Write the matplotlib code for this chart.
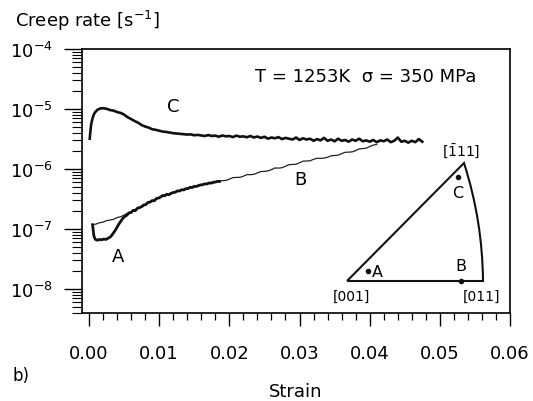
import numpy as np
import matplotlib
matplotlib.use('Agg')
import matplotlib.pyplot as plt
from matplotlib.ticker import LogLocator, MultipleLocator, NullFormatter, LogFormatterMathtext
from matplotlib.path import Path
from matplotlib.patches import PathPatch

plt.rcParams['font.family'] = ['DejaVu Sans']
plt.rcParams['mathtext.fontset'] = 'dejavusans'

# ---------------- data ----------------
strain_C = [0.0001, 0.0002, 0.0003, 0.0005, 0.0007, 0.0009, 0.0012, 0.0016, 0.0020, 0.0025,
            0.0030, 0.0035, 0.0040, 0.0045, 0.0049, 0.0055, 0.0060, 0.0065, 0.0070, 0.0075,
            0.0080, 0.0085, 0.0090, 0.0095,
            0.0100, 0.0105, 0.0110, 0.0115, 0.0120, 0.0125, 0.0130, 0.0135, 0.0140, 0.0145,
            0.0150, 0.0155, 0.0160, 0.0165, 0.0170, 0.0175, 0.0180, 0.0185, 0.0190, 0.0195,
            0.0200, 0.0205, 0.0210, 0.0215, 0.0220, 0.0225, 0.0230, 0.0235, 0.0240, 0.0245,
            0.0250, 0.0255, 0.0260, 0.0265, 0.0270, 0.0275, 0.0280, 0.0285, 0.0290, 0.0295,
            0.0300, 0.0305, 0.0310, 0.0315, 0.0320, 0.0325, 0.0330, 0.0335, 0.0340, 0.0345,
            0.0350, 0.0355, 0.0360, 0.0365, 0.0370, 0.0375, 0.0380, 0.0385, 0.0390, 0.0395,
            0.0400, 0.0405, 0.0410, 0.0415, 0.0420, 0.0425, 0.0430, 0.0435, 0.0440, 0.0445,
            0.0450, 0.0455, 0.0460, 0.0465, 0.0470, 0.0475]
rate_C = np.array([3.2, 4.3, 5.5, 7.0, 8.2, 8.9, 9.7, 10.2, 10.3, 10.1,
                   9.6, 9.4, 8.9, 8.6, 8.2, 7.3, 6.8, 6.3, 5.9, 5.4,
                   5.1, 4.9, 4.6, 4.5,
                   4.35, 4.2, 4.15, 4.05, 3.95, 3.9, 3.85, 3.8, 3.75, 3.78,
                   3.65, 3.7, 3.62, 3.55, 3.68, 3.55, 3.6, 3.45, 3.62, 3.5,
                   3.55, 3.4, 3.6, 3.45, 3.5, 3.38, 3.55, 3.35, 3.48, 3.3,
                   3.45, 3.2, 3.35, 3.25, 3.4, 3.15, 3.3, 3.2, 3.1, 3.35,
                   3.05, 3.25, 3.1, 3.2, 2.95, 3.15, 3.0, 3.3, 2.95, 3.1,
                   2.9, 3.2, 2.95, 3.05, 2.85, 3.1, 2.95, 3.2, 2.9, 3.0,
                   2.85, 3.05, 2.8, 3.0, 2.9, 3.1, 2.8, 2.95, 3.35, 2.85,
                   2.95, 2.75, 2.95, 2.8, 3.15, 2.85]) * 1e-6

strain_A = [0.0005, 0.0006, 0.0007, 0.0009, 0.0012, 0.0015, 0.0018, 0.0021, 0.0024, 0.0027,
            0.0030, 0.0033, 0.0036, 0.0039, 0.0042, 0.0045, 0.0048, 0.0051, 0.0054, 0.0057,
            0.0060, 0.0063, 0.0066, 0.0069, 0.0072, 0.0075, 0.0078, 0.0081, 0.0084, 0.0087,
            0.0090, 0.0093, 0.0096, 0.0099, 0.0102, 0.0105, 0.0108, 0.0111, 0.0114, 0.0117,
            0.0120, 0.0123, 0.0126, 0.0129, 0.0132, 0.0135, 0.0138, 0.0141, 0.0144, 0.0147,
            0.0150, 0.0153, 0.0156, 0.0159, 0.0162, 0.0165, 0.0168, 0.0171, 0.0174, 0.0177,
            0.0180, 0.0183, 0.0186]
rate_A = np.array([1.18, 0.95, 0.76, 0.67, 0.65, 0.67, 0.66, 0.68, 0.67, 0.70,
                   0.73, 0.80, 0.90, 1.02, 1.18, 1.33, 1.50, 1.62, 1.70, 1.86,
                   1.88, 2.05, 2.02, 2.22, 2.28, 2.35, 2.52, 2.55, 2.78, 2.80,
                   2.98, 2.95, 3.22, 3.28, 3.40, 3.62, 3.58, 3.80, 3.72, 3.95,
                   4.05, 4.10, 4.32, 4.30, 4.52, 4.48, 4.70, 4.72, 4.95, 4.90,
                   5.15, 5.12, 5.30, 5.42, 5.48, 5.65, 5.62, 5.85, 5.80, 6.02,
                   6.05, 6.22, 6.20]) * 1e-7

strain_B = [0.0006, 0.0010, 0.0015, 0.0020, 0.0025, 0.0030, 0.0035, 0.0040, 0.0045, 0.0050,
            0.0055, 0.0060, 0.0065, 0.0070, 0.0075, 0.0080, 0.0085, 0.0090, 0.0095, 0.0100,
            0.0105, 0.0110, 0.0115, 0.0120, 0.0125, 0.0130, 0.0135, 0.0140, 0.0145, 0.0150,
            0.0155, 0.0160, 0.0165, 0.0170, 0.0175, 0.0180, 0.0185, 0.0190, 0.0195, 0.0200,
            0.0205, 0.0210, 0.0215, 0.0220, 0.0225, 0.0230, 0.0235, 0.0240, 0.0245, 0.0250,
            0.0255, 0.0260, 0.0265, 0.0270, 0.0275, 0.0280, 0.0285, 0.0290, 0.0295, 0.0300,
            0.0305, 0.0310, 0.0315, 0.0320, 0.0325, 0.0330, 0.0335, 0.0340, 0.0345, 0.0350,
            0.0355, 0.0360, 0.0365, 0.0370, 0.0375, 0.0380, 0.0385, 0.0390, 0.0395, 0.0400,
            0.0405, 0.0410]
rate_B = np.array([1.18, 1.21, 1.27, 1.30, 1.38, 1.41, 1.45, 1.55, 1.60, 1.70,
                   1.84, 1.91, 2.10, 2.19, 2.33, 2.57, 2.80, 2.95, 3.10, 3.35,
                   3.62, 3.72, 3.78, 3.98, 4.30, 4.37, 4.45, 4.68, 5.02, 5.07,
                   5.14, 5.43, 5.70, 5.75, 5.78, 6.03, 6.35, 6.38, 6.45, 6.76,
                   7.18, 7.24, 7.25, 7.59, 8.05, 8.04, 8.15, 8.61, 9.05, 9.12,
                   9.28, 9.77, 10.4, 10.35, 10.5, 11.1, 11.8, 11.9, 12.0, 12.7,
                   13.5, 13.6, 13.7, 14.5, 15.1, 15.0, 15.2, 15.7, 16.6, 16.8,
                   17.0, 18.0, 19.0, 19.1, 19.3, 20.2, 21.6, 21.9, 22.2, 23.7,
                   25.0, 25.7]) * 1e-7

x_ticks = [0.00, 0.01, 0.02, 0.03, 0.04, 0.05, 0.06]
x_tick_labels = ['0.00', '0.01', '0.02', '0.03', '0.04', '0.05', '0.06']

# stereographic triangle (inset schematic, figure pixel coords)
tri_001 = (347, 282)
tri_011 = (483, 282)
tri_111 = (464, 164)
tri_ctrl = (482.5, 221.5)
pole_names = ['A', 'B', 'C']
pole_pts = [(368, 272), (461, 281.5), (458, 178)]

# ---------------- figure ----------------
W, H = 533, 402
fig = plt.figure(figsize=(W / 100, H / 100), dpi=100)
ax = fig.add_axes([82 / W, 1 - 314 / H, (510 - 82) / W, (314 - 50) / H])

ax.plot(strain_B, rate_B, color='#222222', lw=0.9)
ax.plot(strain_A, rate_A, color='#111111', lw=2.0)
ax.plot(strain_C, rate_C, color='#111111', lw=1.9)

ax.set_yscale('log')
ax.set_xlim(-0.001, 0.060)
ax.set_ylim(10 ** -8.4, 1e-4)

ax.set_xticks(x_ticks)
ax.set_xticklabels(x_tick_labels)
ax.xaxis.set_minor_locator(MultipleLocator(0.002))
ax.yaxis.set_major_locator(LogLocator(base=10, numticks=10))
ax.yaxis.set_minor_locator(LogLocator(base=10, subs=np.arange(2, 10), numticks=20))
ax.yaxis.set_major_formatter(LogFormatterMathtext())
ax.yaxis.set_minor_formatter(NullFormatter())

ax.tick_params(axis='x', which='major', direction='out', length=9.5, width=1.0, pad=13, labelsize=13)
ax.tick_params(axis='x', which='minor', direction='out', length=5, width=0.9)
ax.tick_params(axis='y', which='major', direction='out', length=13, width=1.0, pad=8, labelsize=13)
ax.tick_params(axis='y', which='minor', direction='out', length=7, width=0.8)
for s in ax.spines.values():
    s.set_linewidth(1.2)

ax.text(0.0395, 3.55e-5, 'T = 1253K  σ = 350 MPa', fontsize=13, ha='center', va='center')
ax.text(0.0120, 1.12e-5, 'C', fontsize=13, ha='center', va='center')
ax.text(0.0041, 3.5e-8, 'A', fontsize=13, ha='center', va='center')
ax.text(0.0301, 6.8e-7, 'B', fontsize=13, ha='center', va='center')

fig.text(15 / W, 1 - 27 / H, 'Creep rate [s$^{-1}$]', fontsize=13, ha='left', va='baseline')
fig.text(296 / W, 1 - 392 / H, 'Strain', fontsize=13, ha='center', va='center')
fig.text(13 / W, 1 - 376 / H, 'b)', fontsize=12, ha='left', va='center')

# overlay for the inset triangle
ov = fig.add_axes([0, 0, 1, 1])
ov.set_xlim(0, W)
ov.set_ylim(H, 0)
ov.axis('off')
ov.patch.set_alpha(0)
verts = [tri_001, tri_011, tri_ctrl, tri_111, tri_001]
codes = [Path.MOVETO, Path.LINETO, Path.CURVE3, Path.CURVE3, Path.LINETO]
ov.add_patch(PathPatch(Path(verts, codes), facecolor='none', edgecolor='#111111', lw=1.5,
                       joinstyle='miter'))
ov.scatter([p[0] for p in pole_pts], [p[1] for p in pole_pts], s=9, color='#111111', zorder=3)
ov.text(pole_pts[0][0] + 4, pole_pts[0][1] + 1, pole_names[0], fontsize=11.5, ha='left', va='center')
ov.text(pole_pts[1][0], pole_pts[1][1] - 15, pole_names[1], fontsize=11.5, ha='center', va='center')
ov.text(pole_pts[2][0], pole_pts[2][1] + 16, pole_names[2], fontsize=11.5, ha='center', va='center')
ov.text(tri_001[0] + 4, tri_001[1] + 15, '[001]', fontsize=10, ha='center', va='center')
ov.text(tri_011[0] - 1, tri_011[1] + 15, '[011]', fontsize=10, ha='center', va='center')
ov.text(tri_111[0] - 3, tri_111[1] - 12, r'$[\bar{1}11]$', fontsize=10, ha='center', va='center')

fig.savefig('out.png', dpi=100)
